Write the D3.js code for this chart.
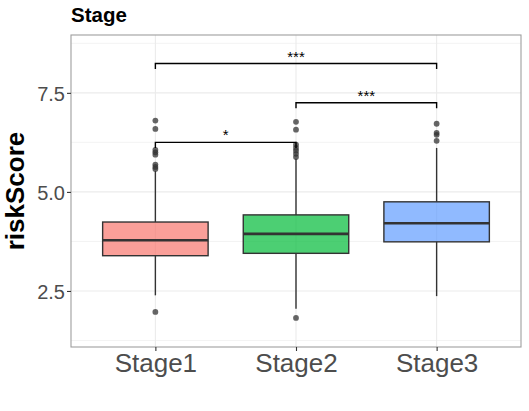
<!DOCTYPE html>
<html><head><meta charset="utf-8">
<script src="https://cdn.jsdelivr.net/npm/d3@7"></script>
<style>body{margin:0;background:#fff}svg{display:block}text{font-family:"Liberation Sans",Arial,sans-serif}</style>
</head><body><svg id="c" width="529" height="411"></svg>
<script>
const categories = ["Stage1","Stage2","Stage3"];
const colors = ["#F8766D","#00BA38","#619CFF"];
const whiskerLow = [2.39, 2.05, 2.37];
const q1 = [3.39, 3.45, 3.74];
const median = [3.78, 3.94, 4.21];
const q3 = [4.24, 4.42, 4.75];
const whiskerHigh = [5.53, 5.84, 6.11];
const outliers = [
  [1.97, 5.58, 5.63, 5.69, 5.94, 6.00, 6.06, 6.59, 6.80],
  [1.82, 5.88, 5.96, 6.04, 6.11, 6.19, 6.57, 6.77],
  [6.29, 6.44, 6.49, 6.72]
];
const yTicks = [2.5, 5.0, 7.5];
const yMinor = [1.25, 3.75, 6.25, 8.75];
const comparisons = [
  {from:"Stage1", to:"Stage2", y:6.25, label:"*"},
  {from:"Stage2", to:"Stage3", y:7.25, label:"***"},
  {from:"Stage1", to:"Stage3", y:8.24, label:"***"}
];
const title = "Stage", yTitle = "riskScore";

const svg = d3.select("#c");
const L = 71, R = 521, T = 35, B = 347;
const y = d3.scaleLinear().domain([1.086, 8.96]).range([B, T]);
const x = d3.scalePoint().domain(categories).range([L, R]).padding(0.6);
const step = x.step();
const bw = step * 0.75;

const g = svg.append("g");
// grid
g.selectAll(".ymin").data(yMinor).join("line")
  .attr("x1", L).attr("x2", R).attr("y1", d=>y(d)).attr("y2", d=>y(d))
  .attr("stroke", "#EBEBEB").attr("stroke-width", 0.6);
g.selectAll(".ymaj").data(yTicks).join("line")
  .attr("x1", L).attr("x2", R).attr("y1", d=>y(d)).attr("y2", d=>y(d))
  .attr("stroke", "#EBEBEB").attr("stroke-width", 1.1);
g.selectAll(".xmaj").data(categories).join("line")
  .attr("x1", d=>x(d)).attr("x2", d=>x(d)).attr("y1", T).attr("y2", B)
  .attr("stroke", "#EBEBEB").attr("stroke-width", 1.1);

// boxes
categories.forEach((c, i) => {
  const cx = x(c);
  const bg = g.append("g");
  bg.append("line").attr("x1", cx).attr("x2", cx).attr("y1", y(q3[i])).attr("y2", y(whiskerHigh[i]))
    .attr("stroke", "#333").attr("stroke-width", 1.4);
  bg.append("line").attr("x1", cx).attr("x2", cx).attr("y1", y(q1[i])).attr("y2", y(whiskerLow[i]))
    .attr("stroke", "#333").attr("stroke-width", 1.4);
  bg.append("rect").attr("x", cx - bw/2).attr("width", bw)
    .attr("y", y(q3[i])).attr("height", y(q1[i]) - y(q3[i]))
    .attr("fill", colors[i]).attr("fill-opacity", 0.7)
    .attr("stroke", "#333").attr("stroke-width", 1.4);
  bg.append("line").attr("x1", cx - bw/2).attr("x2", cx + bw/2)
    .attr("y1", y(median[i])).attr("y2", y(median[i]))
    .attr("stroke", "#333").attr("stroke-width", 2.6);
  bg.selectAll("circle").data(outliers[i]).join("circle")
    .attr("cx", cx).attr("cy", d=>y(d)).attr("r", 2.9)
    .attr("fill", "#333").attr("fill-opacity", 0.75);
});

// brackets
comparisons.forEach(cm => {
  const x1 = x(cm.from), x2 = x(cm.to), yy = y(cm.y);
  g.append("path").attr("d", `M${x1},${yy+5.5}V${yy}H${x2}V${yy+5.5}`)
    .attr("fill", "none").attr("stroke", "#000").attr("stroke-width", 1.4);
  g.append("text").attr("x", (x1+x2)/2).attr("y", yy - 2)
    .attr("text-anchor", "middle").attr("font-size", 15).attr("fill", "#000").text(cm.label);
});

// border
svg.append("rect").attr("x", L).attr("y", T).attr("width", R-L).attr("height", B-T)
  .attr("fill", "none").attr("stroke", "#9E9E9E").attr("stroke-width", 1.1);

// axes
const ya = svg.append("g").attr("transform", `translate(${L},0)`)
  .call(d3.axisLeft(y).tickValues(yTicks).tickFormat(d3.format(".1f")).tickSize(4).tickPadding(2));
ya.select(".domain").remove();
ya.selectAll("line").attr("stroke", "#333").attr("stroke-width", 1.1);
ya.selectAll("text").attr("font-size", 20).attr("fill", "#4D4D4D").attr("font-family", "Liberation Sans, Arial, sans-serif").attr("dy", "0.36em");

const xa = svg.append("g").attr("transform", `translate(0,${B})`)
  .call(d3.axisBottom(x).tickSize(4).tickPadding(3));
xa.select(".domain").remove();
xa.selectAll("line").attr("stroke", "#333").attr("stroke-width", 1.1);
xa.selectAll("text").attr("font-size", 26).attr("fill", "#4D4D4D").attr("font-family", "Liberation Sans, Arial, sans-serif").attr("dy", "0.71em");

svg.append("text").attr("x", 71).attr("y", 22).attr("font-size", 20.5).attr("font-weight", "bold")
  .attr("fill", "#000").text(title);
svg.append("text").attr("transform", `translate(24,${(T+B)/2}) rotate(-90)`)
  .attr("text-anchor", "middle").attr("font-size", 26).attr("font-weight", "bold")
  .attr("fill", "#000").text(yTitle);
</script></body></html>
